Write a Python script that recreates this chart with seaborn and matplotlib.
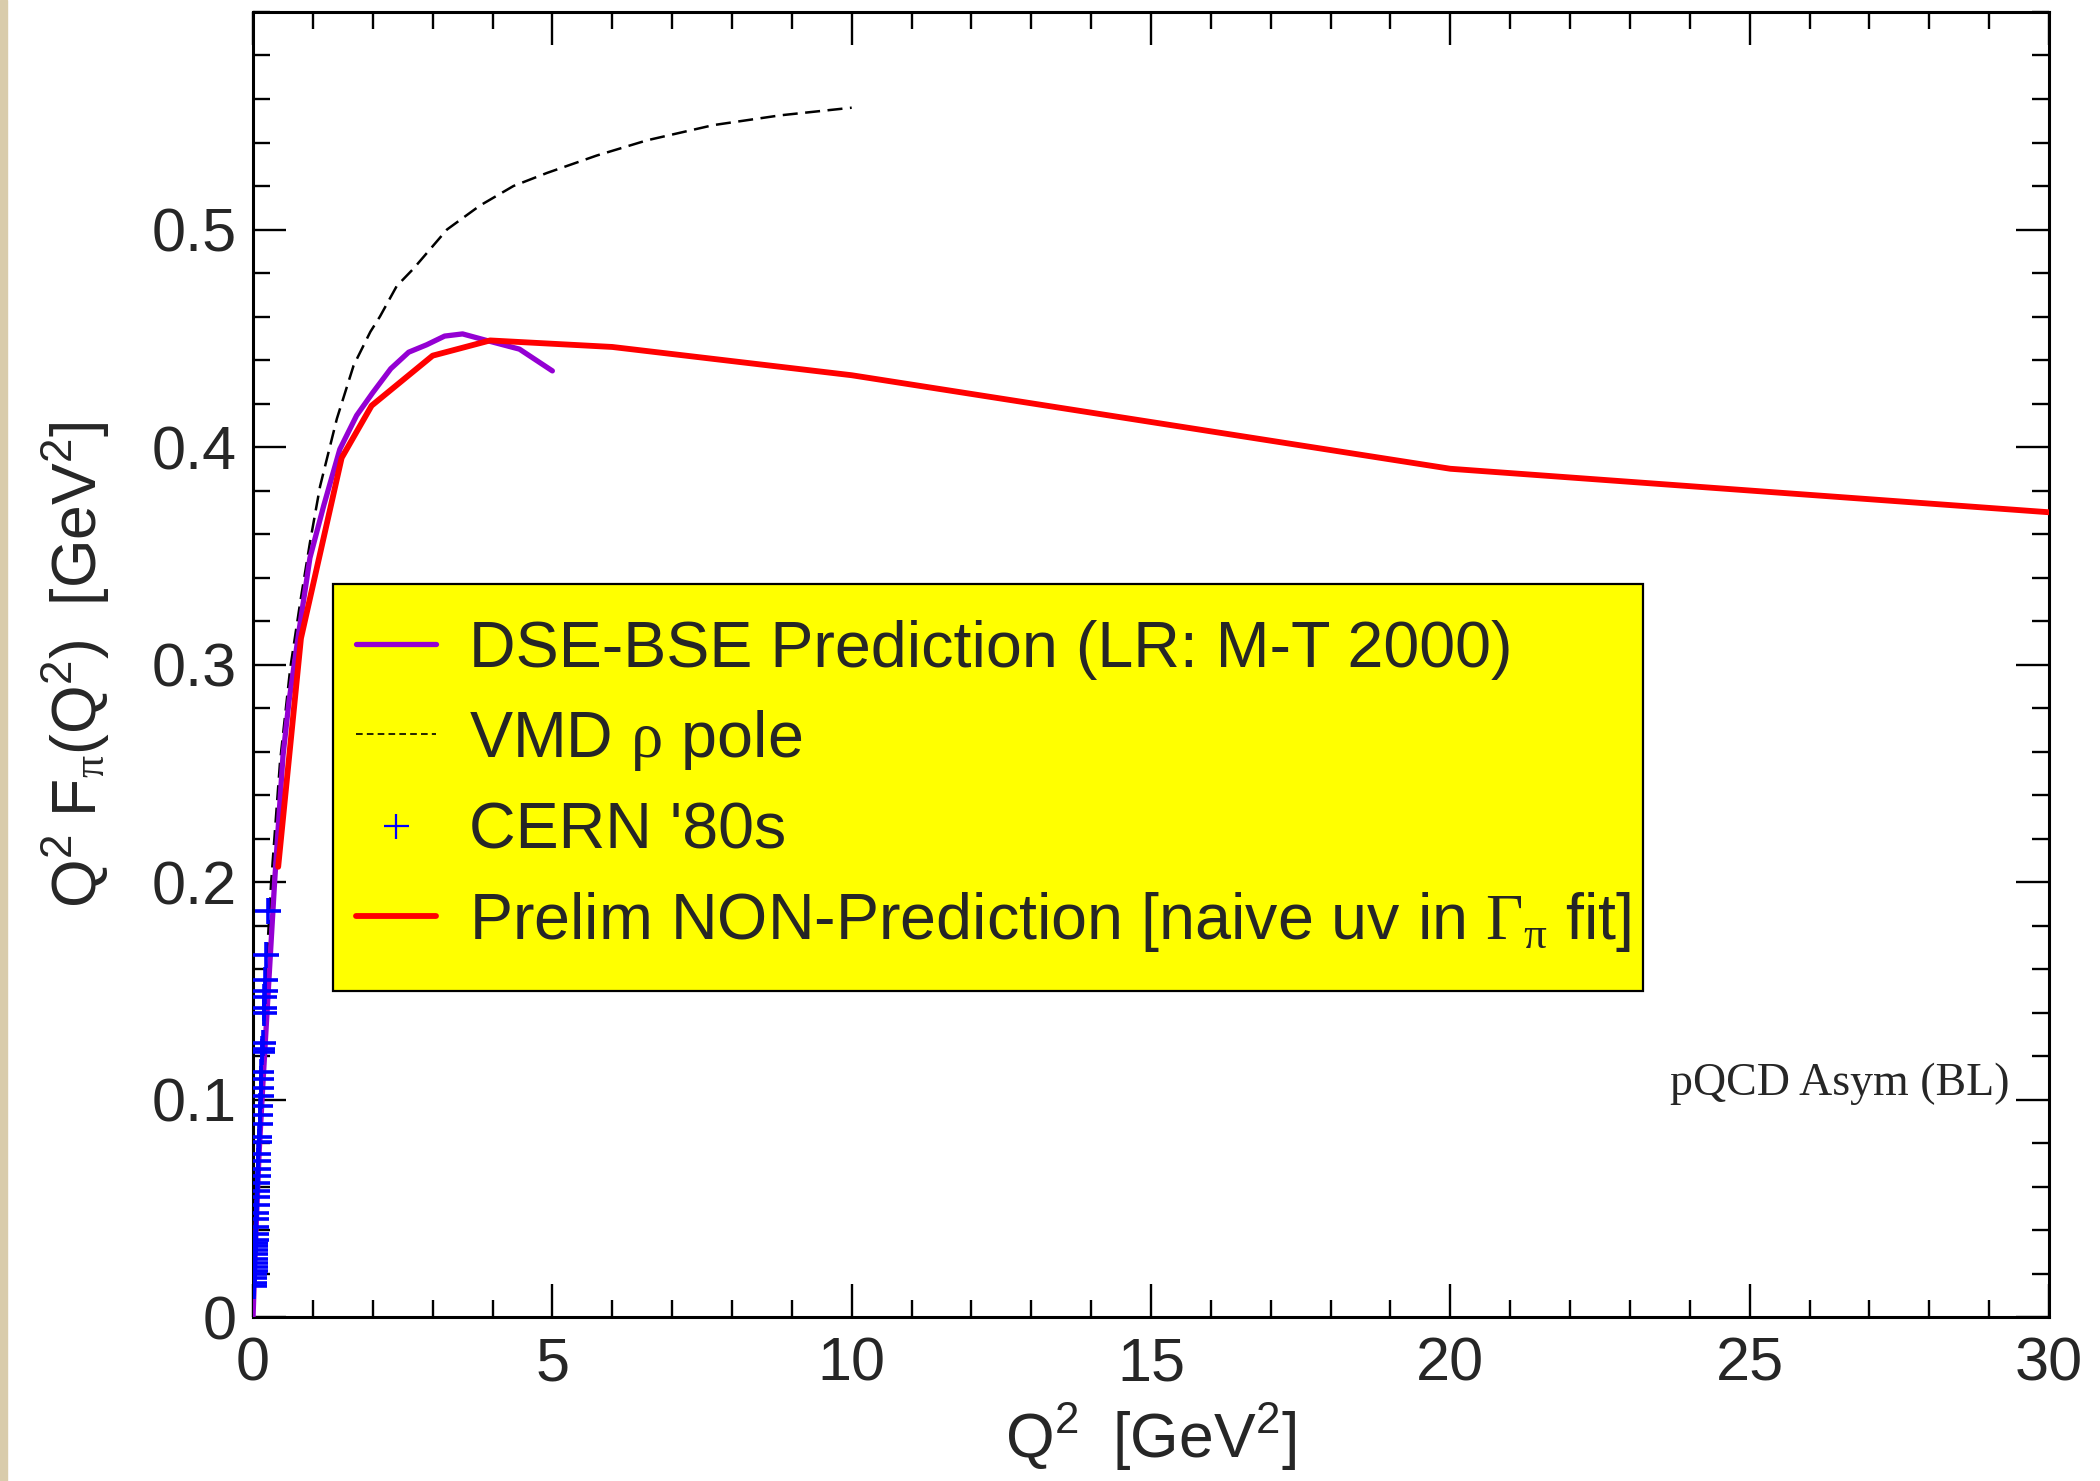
import numpy as np
import pandas as pd
import matplotlib
matplotlib.use("Agg")
import matplotlib.pyplot as plt
from matplotlib.lines import Line2D
from matplotlib.patches import Rectangle
from matplotlib.ticker import MultipleLocator
import seaborn as sns

# ---------------- data ----------------
dse_q2 = [0.0, 0.05, 0.10, 0.16, 0.25, 0.36, 0.50, 0.60, 0.76, 0.95, 1.18, 1.45,
          1.73, 2.00, 2.30, 2.60, 2.90, 3.20, 3.50, 3.90, 4.45, 5.00]
dse_val = [0.0, 0.040, 0.075, 0.105, 0.148, 0.200, 0.258, 0.283, 0.314, 0.349, 0.373, 0.399,
           0.4145, 0.425, 0.436, 0.4436, 0.447, 0.451, 0.452, 0.449, 0.445, 0.435]

vmd_q2 = [0.0, 0.05, 0.10, 0.20, 0.30, 0.45, 0.62, 0.79, 0.95, 1.12, 1.40, 1.68, 1.96,
          2.12, 2.40, 2.68, 3.24, 3.79, 4.35, 4.91, 5.74, 6.58, 7.69, 8.81, 10.0]
vmd_val = [0.0, 0.046, 0.086, 0.150, 0.199, 0.255, 0.298, 0.329, 0.356, 0.382, 0.413,
           0.4375, 0.453, 0.460, 0.474, 0.482, 0.500, 0.511, 0.520, 0.526, 0.534, 0.541,
           0.548, 0.5525, 0.556]

prelim_q2 = [0.42, 0.80, 1.48, 1.98, 3.00, 3.96, 6.00, 10.0, 20.0, 30.0]
prelim_val = [0.207, 0.312, 0.395, 0.419, 0.442, 0.449, 0.446, 0.433, 0.390, 0.370]

cern_q2 = [0.017, 0.019, 0.021, 0.023, 0.025, 0.027, 0.029, 0.031, 0.034, 0.036, 0.038,
           0.040, 0.042, 0.045, 0.049, 0.054, 0.057, 0.061, 0.066, 0.070, 0.074, 0.078,
           0.082, 0.087, 0.091, 0.098, 0.101, 0.109, 0.115, 0.120, 0.126, 0.131, 0.137,
           0.141, 0.153, 0.155, 0.159, 0.178, 0.181, 0.190, 0.195, 0.202, 0.220, 0.250]
cern_val = [0.0142, 0.0157, 0.0178, 0.0197, 0.0212, 0.0231, 0.0249, 0.0269, 0.0289, 0.0307,
            0.0326, 0.0341, 0.0356, 0.0384, 0.0414, 0.0453, 0.0480, 0.0514, 0.0552, 0.0579,
            0.0616, 0.0648, 0.0679, 0.0717, 0.0748, 0.0804, 0.0830, 0.0888, 0.0931, 0.0972,
            0.1014, 0.1052, 0.1095, 0.1125, 0.1217, 0.1232, 0.1258, 0.1396, 0.1420, 0.147,
            0.150, 0.155, 0.1665, 0.1867]

x_ticks = [0, 5, 10, 15, 20, 25, 30]
y_ticks = [0, 0.1, 0.2, 0.3, 0.4, 0.5]
y_tick_labels = ["0", "0.1", "0.2", "0.3", "0.4", "0.5"]

labels = ["DSE-BSE Prediction (LR: M-T 2000)",
          r"VMD $\rho$ pole",
          "CERN '80s",
          r"Prelim NON-Prediction [naive uv in $\Gamma_{\pi}$ fit]"]

# ---------------- style ----------------
sns.set_theme(style="ticks")
plt.rcParams["font.family"] = ["Liberation Sans", "DejaVu Sans"]
plt.rcParams["mathtext.fontset"] = "custom"
plt.rcParams["mathtext.rm"] = "Liberation Serif"
plt.rcParams["mathtext.it"] = "Liberation Serif"
plt.rcParams["mathtext.sf"] = "Liberation Sans"
plt.rcParams["axes.linewidth"] = 2.2

PURPLE = "#9400D3"
RED = "#FF0000"
BLUE = "#0000FF"

fig = plt.figure(figsize=(21, 14.81), dpi=100)
fig.patch.set_facecolor("white")
fig.patches.append(Rectangle((0, 0), 7 / 2100, 1, transform=fig.transFigure,
                             color="#d9ccab", zorder=0))
ax = fig.add_axes([0.1205, 0.1107, 0.8552, 0.8812])

vmd_df = pd.DataFrame({"q2": vmd_q2, "v": vmd_val})
dse_df = pd.DataFrame({"q2": dse_q2, "v": dse_val})
pre_df = pd.DataFrame({"q2": prelim_q2, "v": prelim_val})
cern_df = pd.DataFrame({"q2": cern_q2, "v": cern_val})

sns.lineplot(data=vmd_df, x="q2", y="v", ax=ax, color="black", lw=1.8,
             estimator=None, sort=False, dashes=False, zorder=2)
ax.lines[-1].set_dashes((6, 3))
sns.lineplot(data=dse_df, x="q2", y="v", ax=ax, color=PURPLE, lw=3.8,
             estimator=None, sort=False, zorder=3)
sns.lineplot(data=pre_df, x="q2", y="v", ax=ax, color=RED, lw=4.2,
             estimator=None, sort=False, zorder=4)
sns.scatterplot(data=cern_df, x="q2", y="v", ax=ax, marker="+", s=360,
                color=BLUE, linewidth=2.6, zorder=5)

ax.set_xlim(0, 30)
ax.set_ylim(0, 0.6)
ax.set_xticks(x_ticks)
ax.set_xticklabels([str(t) for t in x_ticks])
ax.set_yticks(y_ticks)
ax.set_yticklabels(y_tick_labels)
ax.xaxis.set_minor_locator(MultipleLocator(1))
ax.yaxis.set_minor_locator(MultipleLocator(0.02))
ax.tick_params(which="both", direction="in", top=True, right=True, width=1.7,
               color="black", labelsize=44)
ax.tick_params(which="major", length=24)
ax.tick_params(which="minor", length=12)
ax.tick_params(axis="x", pad=14)
ax.tick_params(axis="y", pad=12)
for s in ax.spines.values():
    s.set_color("black")
    s.set_linewidth(2.2)

ax.set_xlabel(r"$\mathsf{Q^2\ \ [GeV^2]}$", fontsize=45, labelpad=6)
ax.set_ylabel(r"$\mathsf{Q^2\ F}_{\pi}\mathsf{(Q^2)\ \ [GeV^2]}$", fontsize=45, labelpad=28)

ax.text(0.978, 0.170, "pQCD Asym (BL)", transform=ax.transAxes, ha="right",
        va="baseline", fontsize=33, family=["Liberation Serif", "DejaVu Serif"])

# legend box (yellow frame drawn as a patch in axes coordinates)
ax.add_patch(Rectangle((0.0445, 0.2498), 0.7295, 0.3119, transform=ax.transAxes,
                       facecolor="#FFFF00", edgecolor="black", lw=1.6, zorder=6))

handles = [
    Line2D([], [], color=PURPLE, lw=3.8),
    Line2D([], [], color="black", lw=1.2, dashes=(4, 2.5)),
    Line2D([], [], color=BLUE, lw=0, marker="+", markersize=18, markeredgewidth=1.6),
    Line2D([], [], color=RED, lw=4.2),
]
leg = ax.legend(handles, labels, loc="upper left",
                bbox_to_anchor=(0.0445, 0.5517),
                fontsize=46.5, frameon=False,
                handlelength=1.25, handletextpad=0.5, borderpad=0.35,
                labelspacing=0.44, borderaxespad=0)
leg.set_zorder(7)

fig.savefig("out.png", dpi=100, facecolor="white")
